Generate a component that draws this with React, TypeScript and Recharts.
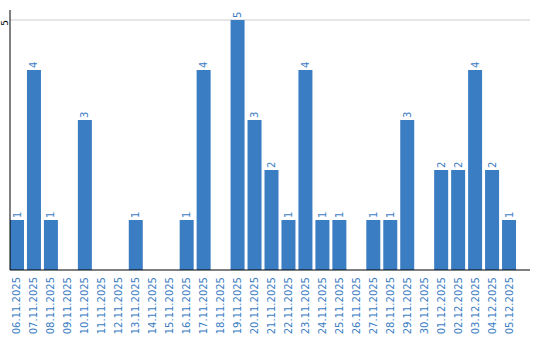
import { BarChart, Bar, XAxis, YAxis, CartesianGrid, LabelList } from "recharts";

const dates = [
  "06.11.2025", "07.11.2025", "08.11.2025", "09.11.2025", "10.11.2025",
  "11.11.2025", "12.11.2025", "13.11.2025", "14.11.2025", "15.11.2025",
  "16.11.2025", "17.11.2025", "18.11.2025", "19.11.2025", "20.11.2025",
  "21.11.2025", "22.11.2025", "23.11.2025", "24.11.2025", "25.11.2025",
  "26.11.2025", "27.11.2025", "28.11.2025", "29.11.2025", "30.11.2025",
  "01.12.2025", "02.12.2025", "03.12.2025", "04.12.2025", "05.12.2025",
];
const counts = [1, 4, 1, 0, 3, 0, 0, 1, 0, 0, 1, 4, 0, 5, 3, 2, 1, 4, 1, 1, 0, 1, 1, 3, 0, 2, 2, 4, 2, 1];
const yTicks = [5];

const BLUE = "#3b7dc3";
const FONT = "'DejaVu Sans', Verdana, sans-serif";

const data = dates.map((d, i) => ({ date: d, count: counts[i] }));

function DateTick({ x, y, payload }: any) {
  const tx = x + 3.5;
  const ty = y - 1;
  return (
    <text x={tx} y={ty} transform={`rotate(-90, ${tx}, ${ty})`} textAnchor="end"
      fill={BLUE} fontSize={10} fontFamily={FONT}>
      {payload.value}
    </text>
  );
}

function CountTick({ y, payload }: any) {
  const tx = 7.5;
  return (
    <text x={tx} y={y} transform={`rotate(-90, ${tx}, ${y})`} textAnchor="end"
      fill="#000" fontSize={9} fontFamily={FONT}>
      {payload.value}
    </text>
  );
}

function ValueLabel({ x, y, width, value }: any) {
  if (!value) return null;
  const tx = x + width / 2 + 3.5;
  const ty = y - 2;
  return (
    <text x={tx} y={ty} transform={`rotate(-90, ${tx}, ${ty})`} textAnchor="start"
      fill={BLUE} fontSize={10} fontFamily={FONT}>
      {value}
    </text>
  );
}

export default function App() {
  return (
    <div style={{ position: "absolute", left: 0, top: 0, width: 540, height: 340 }}>
      <BarChart width={540} height={340} data={data}
        margin={{ top: 10, right: 10, left: 0, bottom: 0 }} barCategoryGap={1.5}>
        <CartesianGrid vertical={false} stroke="#cccccc" horizontalValues={yTicks} />
        <XAxis dataKey="date" interval={0} height={70} tickLine={false}
          axisLine={{ stroke: "#000" }} padding={{ left: -1.5, right: 12.5 }}
          tick={<DateTick />} />
        <YAxis domain={[0, 5.2]} ticks={yTicks} width={10} tickLine={false}
          axisLine={{ stroke: "#000" }} tick={<CountTick />} />
        <Bar dataKey="count" fill={BLUE} isAnimationActive={false}>
          <LabelList dataKey="count" content={<ValueLabel />} />
        </Bar>
      </BarChart>
    </div>
  );
}
